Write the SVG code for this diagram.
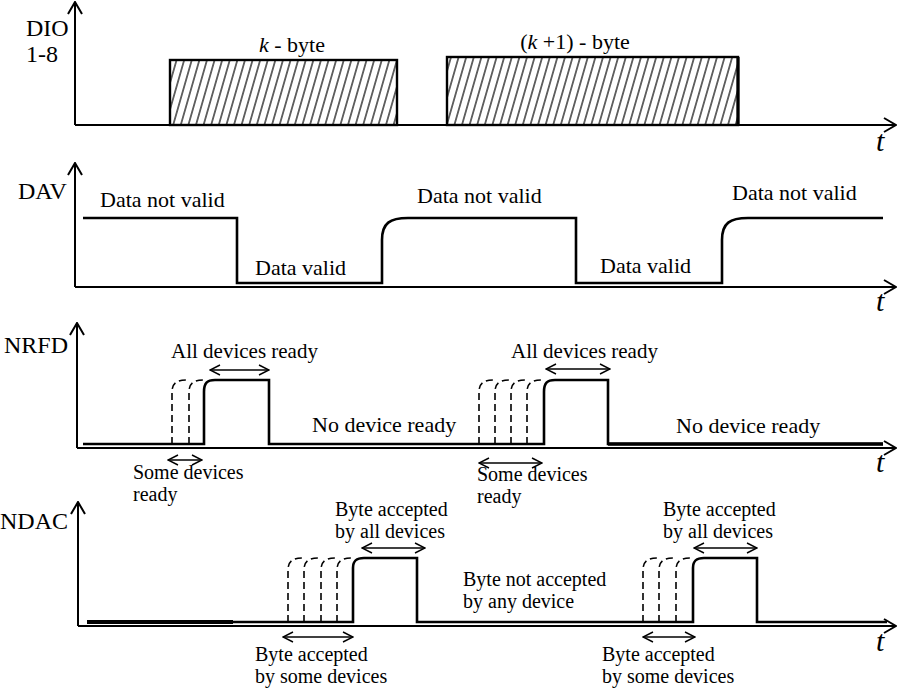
<svg xmlns="http://www.w3.org/2000/svg" width="900" height="689" viewBox="0 0 900 689">
<style>
.ax{fill:none;stroke:#000;stroke-width:2}
.sig{fill:none;stroke:#000;stroke-width:2.6;stroke-linejoin:miter}
.dash{fill:none;stroke:#000;stroke-width:1.6;stroke-dasharray:7 4}
.da{fill:none;stroke:#000;stroke-width:1.4}
text{font-family:"Liberation Serif","Times New Roman",serif;font-size:22px;fill:#000}
.two{font-size:20px}
.lab{font-size:24px}
.t{font-size:30px;font-style:italic}
.it{font-style:italic}
</style>
<defs>
<marker id="axh" viewBox="0 0 14 16" refX="13" refY="8" markerWidth="14" markerHeight="16" markerUnits="userSpaceOnUse" orient="auto"><path d="M1,1 L13,8 L1,15" fill="none" stroke="#000" stroke-width="2"/></marker>
<marker id="dh" viewBox="0 0 12 12" refX="11" refY="6" markerWidth="12" markerHeight="12" markerUnits="userSpaceOnUse" orient="auto-start-reverse"><path d="M1,1 L11,6 L1,11" fill="none" stroke="#000" stroke-width="1.4"/></marker>
<pattern id="hatch" patternUnits="userSpaceOnUse" width="7.6" height="10" patternTransform="skewX(-16)"><line x1="3.8" y1="-1" x2="3.8" y2="11" stroke="#000" stroke-width="1.2"/></pattern>
</defs>

<g id="dio">
<text class="lab" x="26" y="36">DIO</text>
<text class="lab" x="26" y="62">1-8</text>
<rect x="170" y="60" width="227" height="65" fill="url(#hatch)" stroke="#000" stroke-width="2.4"/>
<rect x="447" y="57" width="291" height="68" fill="url(#hatch)" stroke="#000" stroke-width="2.4"/>
<line x1="738" y1="57" x2="738" y2="125" stroke="#000" stroke-width="3.2"/>
<text x="292" y="52" text-anchor="middle"><tspan class="it">k</tspan> - byte</text>
<text x="575" y="49" text-anchor="middle">(<tspan class="it">k</tspan> +1) - byte</text>
<path class="ax" d="M75 125 V2" marker-end="url(#axh)"/>
<path class="ax" d="M75 125 H896" marker-end="url(#axh)"/>
<text class="t" x="876" y="151">t</text>
</g>

<g id="dav">
<text class="lab" x="18" y="199">DAV</text>
<path class="ax" d="M75 287 V163" marker-end="url(#axh)"/>
<path class="ax" d="M75 287 H896" marker-end="url(#axh)"/>
<text class="t" x="876" y="311">t</text>
<path class="sig" d="M83 218 H237 V283 H382 V240 C382 223 390 218 408 218 H576 V283 H722 V240 C722 223 730 218 748 218 H883"/>
<text x="100" y="207">Data not valid</text>
<text x="255" y="275">Data valid</text>
<text x="417" y="203">Data not valid</text>
<text x="600" y="273">Data valid</text>
<text x="732" y="200">Data not valid</text>
</g>

<g id="nrfd">
<text class="lab" x="4" y="353">NRFD</text>
<path class="ax" d="M77 448 V323" marker-end="url(#axh)"/>
<path class="ax" d="M77 448 H896" marker-end="url(#axh)"/>
<text class="t" x="876" y="472">t</text>
<path class="sig" d="M83 444 H204 V392 C204 383 207 380 215 380 H269 V444 H544 V392 C544 383 547 380 555 380 H608 V444 H883"/>
<line x1="608" y1="444" x2="883" y2="444" stroke="#000" stroke-width="3.6"/>
<path class="dash" d="M172 444 V392 C172 384 176 380 186 380"/>
<path class="dash" d="M189 444 V392 C189 384 193 380 203 380"/>
<path class="dash" d="M479 444 V392 C479 384 483 380 493 380"/>
<path class="dash" d="M495 444 V392 C495 384 499 380 509 380"/>
<path class="dash" d="M511 444 V392 C511 384 515 380 525 380"/>
<path class="dash" d="M527 444 V392 C527 384 531 380 541 380"/>
<text x="171" y="358" style="font-size:21px">All devices ready</text>
<path class="da" d="M210 370 H269" marker-start="url(#dh)" marker-end="url(#dh)"/>
<text x="312" y="432">No device ready</text>
<text class="two" x="133" y="479">Some devices</text>
<text class="two" x="133" y="501">ready</text>
<path class="da" d="M168 460 H202" marker-start="url(#dh)" marker-end="url(#dh)"/>
<text x="511" y="358" style="font-size:21px">All devices ready</text>
<path class="da" d="M546 369 H610" marker-start="url(#dh)" marker-end="url(#dh)"/>
<text x="676" y="433">No device ready</text>
<text class="two" x="477" y="481">Some devices</text>
<text class="two" x="477" y="503">ready</text>
<path class="da" d="M479 463 H542" marker-start="url(#dh)" marker-end="url(#dh)"/>
</g>

<g id="ndac">
<text class="lab" x="0" y="529">NDAC</text>
<path class="ax" d="M78 626 V502" marker-end="url(#axh)"/>
<path class="ax" d="M78 626 H896" marker-end="url(#axh)"/>
<text class="t" x="876" y="651">t</text>
<path class="sig" d="M87 622 H353 V568 C353 561 356 558 364 558 H417 V622 H693 V568 C693 561 696 558 704 558 H757 V622 H887"/>
<line x1="87" y1="622" x2="233" y2="622" stroke="#000" stroke-width="3.8"/>
<path class="dash" d="M288 622 V570 C288 562 292 558 302 558"/>
<path class="dash" d="M304 622 V570 C304 562 308 558 318 558"/>
<path class="dash" d="M321 622 V570 C321 562 325 558 335 558"/>
<path class="dash" d="M337 622 V570 C337 562 341 558 351 558"/>
<path class="dash" d="M643 622 V570 C643 562 647 558 657 558"/>
<path class="dash" d="M659 622 V570 C659 562 663 558 673 558"/>
<path class="dash" d="M676 622 V570 C676 562 680 558 690 558"/>
<text class="two" x="335" y="516">Byte accepted</text>
<text class="two" x="335" y="538">by all devices</text>
<path class="da" d="M362 548 H425" marker-start="url(#dh)" marker-end="url(#dh)"/>
<text class="two" x="663" y="516">Byte accepted</text>
<text class="two" x="663" y="538">by all devices</text>
<path class="da" d="M694 548 H757" marker-start="url(#dh)" marker-end="url(#dh)"/>
<text class="two" x="463" y="586">Byte not accepted</text>
<text class="two" x="463" y="608">by any device</text>
<path class="da" d="M283 637 H353" marker-start="url(#dh)" marker-end="url(#dh)"/>
<text class="two" x="255" y="661">Byte accepted</text>
<text class="two" x="255" y="683">by some devices</text>
<path class="da" d="M643 637 H695" marker-start="url(#dh)" marker-end="url(#dh)"/>
<text class="two" x="602" y="661">Byte accepted</text>
<text class="two" x="602" y="683">by some devices</text>
</g>
</svg>
